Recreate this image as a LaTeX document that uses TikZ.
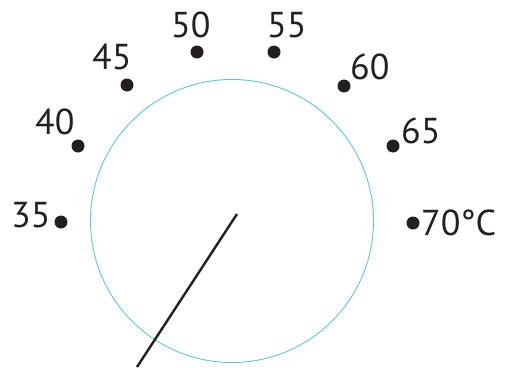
\documentclass[tikz,border=0pt]{standalone}
\usepackage{fontspec}
\setmainfont{PT Sans}
\definecolor{ink}{RGB}{35,31,32}
\definecolor{dialblue}{RGB}{95,195,228}
\begin{document}
\begin{tikzpicture}[x=1pt,y=-1pt,
  mark dot/.style={circle,fill=ink,inner sep=0pt,minimum size=13pt},
  num/.style={anchor=base west,inner sep=0pt,text=ink,font=\fontsize{36}{36}\selectfont},
  dial/.style={circle,draw=dialblue,line width=0.9pt,inner sep=0pt,minimum size=283pt},
  needle/.style={draw=ink,line width=2.4pt}]
\useasboundingbox[fill=white] (0,0) rectangle (508,367);
\node[dial] (dialc) at (232,221) {};
% dots
\node[mark dot] (d35) at (61,222) {};
\node[mark dot] (d40) at (78,146) {};
\node[mark dot] (d45) at (127,85) {};
\node[mark dot] (d50) at (197,52) {};
\node[mark dot] (d55) at (274,52) {};
\node[mark dot] (d60) at (344,86) {};
\node[mark dot] (d65) at (393,146) {};
\node[mark dot] (d70) at (413,223) {};
% labels
\node[num] (l35) at (11,227) {35};
\node[num] (l40) at (35,134) {40};
\node[num] (l45) at (92,69) {45};
\node[num] (l50) at (171,37) {50};
\node[num] (l55) at (267,37) {55};
\node[num] (l60) at (350,79) {60};
\node[num] (l65) at (401,143) {65};
\node[num] (l70) at (421,235) {70°C};
% needle
\coordinate (ntip) at (237,214);
\coordinate (nend) at (137,367);
\draw[needle] (ntip) -- (nend);
\end{tikzpicture}
\end{document}
